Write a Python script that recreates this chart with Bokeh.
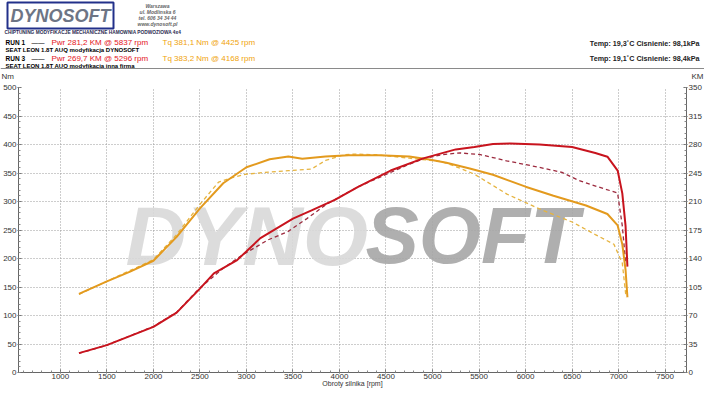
from bokeh.plotting import figure
from bokeh.layouts import column
from bokeh.models import Range1d, LinearAxis, FixedTicker, Label, Span
from bokeh.embed import file_html
from bokeh.resources import INLINE

# ---------------- data ----------------
rpm_tq1 = [1200, 1500, 1750, 2000, 2250, 2500, 2750, 3000, 3250, 3450, 3600, 3850, 4100, 4425,
           4750, 4950, 5150, 5400, 5650, 6000, 6300, 6650, 6880, 6990, 7040, 7075, 7095]
tq1 = [138, 160, 177, 196, 238, 288, 332, 360, 374, 379, 375, 379, 381, 381.1,
       379, 374, 368, 358, 347, 326, 310, 293, 278, 258, 225, 180, 132]

rpm_tq3 = [1200, 1500, 2000, 2250, 2500, 2700, 2850, 3000, 3200, 3450, 3700, 3850, 4050, 4168,
           4400, 4750, 5100, 5270, 5450, 5800, 6150, 6500, 6750, 6950, 7040, 7080]
tq3 = [137, 160, 198, 242, 295, 334, 342, 348, 351, 354, 357, 372, 382, 383.2,
       382, 376, 370, 360, 348, 313, 287, 264, 242, 225, 192, 132]

rpm_pw1 = [1200, 1500, 2000, 2250, 2500, 2650, 2900, 3150, 3500, 3700, 3950, 4200, 4550, 4900,
           5250, 5450, 5650, 5837, 6150, 6500, 6750, 6880, 6990, 7040, 7075, 7095]
pw1 = [23.8, 33.6, 56.0, 73.5, 103.0, 121.8, 138.0, 165.0, 189.0, 199.0, 212.0, 228.0, 248.0, 263.0,
       274.0, 277.0, 280.5, 281.2, 280.0, 277.0, 269.5, 265.0, 248.0, 220.0, 180.0, 130.0]

rpm_pw3 = [1200, 1500, 2000, 2250, 2500, 2750, 2950, 3235, 3445, 3650, 3866, 4200, 4744, 4919,
           5100, 5296, 5515, 5796, 6147, 6393, 6568, 6779, 6989, 7040, 7077]
pw3 = [23.5, 33.6, 56.5, 74.0, 104.0, 128.0, 144.0, 163.0, 173.0, 189.0, 207.0, 228.0, 255.5, 263.0,
       267.5, 269.7, 267.5, 260.0, 252.0, 245.7, 236.0, 228.0, 220.5, 180.0, 134.0]

x_ticks = list(range(1000, 8000, 500))
x_minor = list(range(600, 7800, 100))
nm_ticks = list(range(0, 550, 50))
nm_minor = list(range(0, 510, 10))
km_ticks = list(range(0, 385, 35))
km_minor = list(range(0, 357, 7))

header = {
    "run1": "RUN 1", "pwr1": "Pwr  281,2 KM @ 5837 rpm", "tq1": "Tq 381,1 Nm @ 4425 rpm",
    "car1": "SEAT LEON 1.8T AUQ modyfikacja DYNOSOFT", "env1": "Temp: 19,3\u02daC   Cisnienie: 98,1kPa",
    "run3": "RUN 3", "pwr3": "Pwr  269,7 KM @ 5296 rpm", "tq3": "Tq 383,2 Nm @ 4168 rpm",
    "car3": "SEAT LEON 1.8T AUQ modyfikacja inna firma", "env3": "Temp: 19,1\u02daC   Cisnienie: 98,4kPa",
}

FONT = "Liberation Sans"
C_TQ1, C_TQ3 = "#e39a1e", "#e6b440"
C_PW1, C_PW3 = "#c8141e", "#9c2a3e"

W = 704
HH = 81            # header figure height
MH = 389 - HH      # main figure height

# ---------------- header figure ----------------
h = figure(width=W, height=HH, x_range=Range1d(0, W), y_range=Range1d(HH, 0),
           output_backend="svg", toolbar_location=None, x_axis_type=None, y_axis_type=None,
           min_border=0, min_border_left=0, min_border_right=0, min_border_top=0, min_border_bottom=0,
           background_fill_color="white", border_fill_color="white", outline_line_color=None)
h.frame_align = False
h.xgrid.visible = False
h.ygrid.visible = False

def hlab(text, x, y, size, color="#000000", style="normal", align="left", **kw):
    h.add_layout(Label(x=x, y=y, text=text, text_font_size=f"{size}px", text_color=color,
                       text_font_style=style, text_align=align, text_baseline="middle",
                       text_font=FONT, **kw))

hlab("DYNOSOFT", 7, 15, 18, "#6d7585", "bold italic",
     border_line_color="#22308a", border_line_width=2, background_fill_color="white", padding=3)
for i, t in enumerate(["Warszawa", "ul. Modlinska 6", "tel. 606 34 34 44", "www.dynosoft.pl"]):
    hlab(t, 157, 5 + i * 6.3, 5, "#666666", "bold italic", align="center")
hlab("CHIPTUNING      MODYFIKACJE MECHANICZNE      HAMOWNIA PODWOZIOWA 4x4", 4, 32, 4.8, "#2a2a50", "bold")

hlab(header["run1"], 5, 42, 6.5, "#000000", "bold")
hlab("\u2014\u2014", 31, 42, 6.5, "#000000")
hlab(header["pwr1"], 51, 42, 8, "#e4141b")
hlab(header["tq1"], 162, 42, 8, "#f0a30a")
hlab(header["car1"], 5, 49, 6, "#000000", "bold")
hlab(header["run3"], 5, 58, 6.5, "#000000", "bold")
hlab("\u2014\u2014", 31, 58, 6.5, "#000000")
hlab(header["pwr3"], 51, 58, 8, "#e4141b")
hlab(header["tq3"], 162, 58, 8, "#f0a30a")
hlab(header["car3"], 5, 65, 6, "#000000", "bold")
hlab(header["env1"], 703, 43, 7.2, "#222222", "bold", align="right")
hlab(header["env3"], 703, 58, 7.2, "#222222", "bold", align="right")
hlab("Nm", 1, 76, 8, "#333333")
hlab("KM", 703, 76, 8, "#333333", align="right")
h.add_layout(Span(location=68, dimension="width", line_color="#8a8a8a", line_width=1))

# ---------------- main figure ----------------
FT, FB = 6, 15
p = figure(width=W, height=MH, x_range=Range1d(550, 7730), y_range=Range1d(0, 500),
           output_backend="svg", toolbar_location=None,
           min_border_left=0, min_border_right=0, min_border_top=FT, min_border_bottom=FB,
           background_fill_color="white", border_fill_color="white", outline_line_color=None)
p.frame_align = False
p.extra_y_ranges = {"km": Range1d(0, 350)}

def style_axis(ax):
    ax.axis_line_color = "#666666"
    ax.major_tick_line_color = "#666666"
    ax.minor_tick_line_color = "#888888"
    ax.major_tick_in = 3
    ax.major_tick_out = 1
    ax.minor_tick_in = 2
    ax.minor_tick_out = 0
    ax.major_label_text_font = FONT
    ax.major_label_text_font_size = "8px"
    ax.major_label_text_color = "#333333"
    ax.major_label_standoff = 1

p.xaxis.ticker = FixedTicker(ticks=x_ticks, minor_ticks=x_minor)
p.yaxis.ticker = FixedTicker(ticks=nm_ticks, minor_ticks=nm_minor)
style_axis(p.xaxis[0])
style_axis(p.yaxis[0])
p.xaxis.major_label_standoff = 0
p.xaxis.axis_label = "Obroty silnika [rpm]"
p.xaxis.axis_label_text_font = FONT
p.xaxis.axis_label_text_font_size = "7px"
p.xaxis.axis_label_text_font_style = "normal"
p.xaxis.axis_label_text_color = "#333333"
p.xaxis.axis_label_standoff = -2
rax = LinearAxis(y_range_name="km", ticker=FixedTicker(ticks=km_ticks, minor_ticks=km_minor))
style_axis(rax)
p.add_layout(rax, "right")

for g in (p.xgrid[0], p.ygrid[0]):
    g.grid_line_color = "#9a9a9a"
    g.grid_line_dash = "1 2"
    g.grid_line_width = 1

FRAME_LEFT = 17
FRAME_BOTTOM = MH - 20
def wlab(text, x, y, size, color):
    # x, y given in whole-chart coordinates (y from top of chart, text centre)
    p.add_layout(Label(x=x - FRAME_LEFT, y=FRAME_BOTTOM - (y - HH), x_units="screen", y_units="screen",
                       text=text, text_font_size=f"{size}px", text_color=color,
                       text_font_style="bold italic", text_align="left", text_baseline="middle",
                       text_font=FONT, text_alpha=0.9, level="underlay"))

# watermark
wlab("DYNO", 124, 232, 84, "#d8d8d8")
wlab("SOFT", 364, 232, 80, "#a6a6a6")

# curves
p.line(rpm_tq3, tq3, line_color=C_TQ3, line_width=1.3, line_dash="4 3")
p.line(rpm_pw3, pw3, line_color=C_PW3, line_width=1.3, line_dash="4 3", y_range_name="km")
p.line(rpm_tq1, tq1, line_color=C_TQ1, line_width=2)
p.line(rpm_pw1, pw1, line_color=C_PW1, line_width=2, y_range_name="km")

layout = column(h, p, spacing=0)
open("out.html", "w").write(file_html(layout, INLINE))
